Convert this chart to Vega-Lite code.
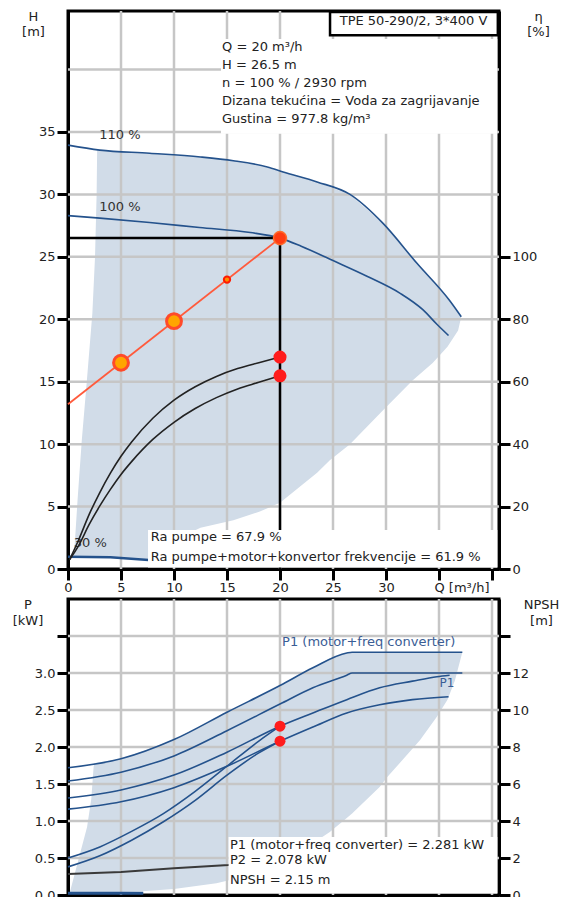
{
"$schema": "https://vega.github.io/schema/vega-lite/v6.json",
"autosize": {"type": "pad"},
"padding": {"left": 10, "top": 8, "right": 0, "bottom": 0},
"background": "white",
"spacing": 30,
"bounds": "flush",
"config": {
  "font": "DejaVu Sans",
  "view": {"stroke": "black", "strokeWidth": 3},
  "axis": {
    "grid": false,
    "domainColor": "black", "domainWidth": 3, "tickColor": "black", "tickWidth": 3, "tickSize": 11,
    "labelFont": "DejaVu Sans", "labelFontSize": 13, "labelColor": "#222", "labelPadding": 2,
    "titleFont": "DejaVu Sans", "titleFontSize": 13, "titleFontWeight": "normal", "titleColor": "#222",
    "labelOverlap": false, "labelFlush": false
  }
},
"datasets": {
  "gridTop": [
    {"g":"v5","Q":5,"H":0},{"g":"v5","Q":5,"H":44.69},
    {"g":"v10","Q":10,"H":0},{"g":"v10","Q":10,"H":44.69},
    {"g":"v15","Q":15,"H":0},{"g":"v15","Q":15,"H":44.69},
    {"g":"v20","Q":20,"H":0},{"g":"v20","Q":20,"H":44.69},
    {"g":"v25","Q":25,"H":0},{"g":"v25","Q":25,"H":44.69},
    {"g":"v30","Q":30,"H":0},{"g":"v30","Q":30,"H":44.69},
    {"g":"v35","Q":35,"H":0},{"g":"v35","Q":35,"H":44.69},
    {"g":"v40","Q":40,"H":0},{"g":"v40","Q":40,"H":44.69},
    {"g":"h5","Q":0,"H":5},{"g":"h5","Q":40.66,"H":5},
    {"g":"h10","Q":0,"H":10},{"g":"h10","Q":40.66,"H":10},
    {"g":"h15","Q":0,"H":15},{"g":"h15","Q":40.66,"H":15},
    {"g":"h20","Q":0,"H":20},{"g":"h20","Q":40.66,"H":20},
    {"g":"h25","Q":0,"H":25},{"g":"h25","Q":40.66,"H":25},
    {"g":"h30","Q":0,"H":30},{"g":"h30","Q":40.66,"H":30},
    {"g":"h35","Q":0,"H":35},{"g":"h35","Q":40.66,"H":35},
    {"g":"h40","Q":0,"H":40},{"g":"h40","Q":40.66,"H":40}
  ],
  "gridBot": [
    {"g":"v5","Q":5,"P":0},{"g":"v5","Q":5,"P":4},
    {"g":"v10","Q":10,"P":0},{"g":"v10","Q":10,"P":4},
    {"g":"v15","Q":15,"P":0},{"g":"v15","Q":15,"P":4},
    {"g":"v20","Q":20,"P":0},{"g":"v20","Q":20,"P":4},
    {"g":"v25","Q":25,"P":0},{"g":"v25","Q":25,"P":4},
    {"g":"v30","Q":30,"P":0},{"g":"v30","Q":30,"P":4},
    {"g":"v35","Q":35,"P":0},{"g":"v35","Q":35,"P":4},
    {"g":"v40","Q":40,"P":0},{"g":"v40","Q":40,"P":4},
    {"g":"h05","Q":0,"P":0.5},{"g":"h05","Q":40.66,"P":0.5},
    {"g":"h10","Q":0,"P":1},{"g":"h10","Q":40.66,"P":1},
    {"g":"h15","Q":0,"P":1.5},{"g":"h15","Q":40.66,"P":1.5},
    {"g":"h20","Q":0,"P":2},{"g":"h20","Q":40.66,"P":2},
    {"g":"h25","Q":0,"P":2.5},{"g":"h25","Q":40.66,"P":2.5},
    {"g":"h30","Q":0,"P":3},{"g":"h30","Q":40.66,"P":3},
    {"g":"h35","Q":0,"P":3.5},{"g":"h35","Q":40.66,"P":3.5}
  ],
  "areaTop": [
    {"Q":0.55,"H":1.0,"H2":0.96},{"Q":0.66,"H":2.3,"H2":0.96},{"Q":0.9,"H":5.5,"H2":0.96},{"Q":1.3,"H":10.3,"H2":0.96},
    {"Q":1.8,"H":15.3,"H2":0.96},{"Q":2.3,"H":20.5,"H2":0.96},{"Q":2.55,"H":25.0,"H2":0.96},{"Q":2.7,"H":30.0,"H2":0.96},
    {"Q":2.75,"H":33.6,"H2":0.96},{"Q":3.0,"H":33.55,"H2":0.96},{"Q":7.5,"H":33.3,"H2":0.75},{"Q":10,"H":33.15,"H2":2.3},
    {"Q":12.5,"H":33.0,"H2":3.3},{"Q":15.6,"H":32.7,"H2":3.9},{"Q":18.1,"H":32.3,"H2":4.6},{"Q":20.0,"H":31.85,"H2":5.3},
    {"Q":23.5,"H":31.0,"H2":7.7},{"Q":24.7,"H":30.6,"H2":8.7},{"Q":26.6,"H":30.0,"H2":10.0},{"Q":29.7,"H":27.7,"H2":12.7},
    {"Q":32.5,"H":24.9,"H2":15.1},{"Q":34.4,"H":23.05,"H2":16.5},{"Q":35.8,"H":21.7,"H2":17.8},{"Q":36.8,"H":20.55,"H2":19.1},
    {"Q":37.1,"H":20.2,"H2":20.2}
  ],
  "h110": [
    {"Q":0,"H":33.95},{"Q":3,"H":33.55},{"Q":7.7,"H":33.3},{"Q":12.5,"H":33.0},{"Q":15.6,"H":32.7},{"Q":18.8,"H":32.2},
    {"Q":20.3,"H":31.8},{"Q":23.5,"H":31.0},{"Q":26.6,"H":30.0},{"Q":29.7,"H":27.7},{"Q":32.9,"H":24.5},{"Q":36.0,"H":21.5},
    {"Q":37.1,"H":20.2}
  ],
  "h100": [
    {"Q":0,"H":28.3},{"Q":3,"H":28.1},{"Q":7.7,"H":27.75},{"Q":12.4,"H":27.35},{"Q":17.2,"H":26.95},{"Q":20,"H":26.5},
    {"Q":22,"H":25.85},{"Q":25,"H":24.7},{"Q":28.2,"H":23.45},{"Q":31.3,"H":22.1},{"Q":33.5,"H":20.75},{"Q":34.8,"H":19.6},
    {"Q":35.9,"H":18.7}
  ],
  "low30": [{"Q":0,"H":0.98},{"Q":4,"H":0.95},{"Q":7.6,"H":0.72}],
  "sysLine": [{"Q":0,"H":13.2},{"Q":20,"H":26.5}],
  "sysBig": [{"Q":5,"H":16.52},{"Q":10,"H":19.85}],
  "sysSmall": [{"Q":15,"H":23.18}],
  "opPt": [{"Q":20,"H":26.5}],
  "opH": [{"Q":0,"H":26.5},{"Q":20,"H":26.5}],
  "opV": [{"Q":20,"H":26.5},{"Q":20,"H":0}],
  "topBoxes": [{"Q":14.43,"Q2":40.5,"H":34.85,"H2":42.45},{"Q":7.55,"Q2":40.5,"H":0.12,"H2":3.12}],
  "titleBox": [{"Q":24.72,"Q2":40.55,"H":42.75,"H2":44.6}],
  "titleText": [{"Q":32.6,"H":43.85,"t":"TPE 50-290/2, 3*400 V"}],
  "topText": [
    {"Q":14.53,"H":41.81,"t":"Q = 20 m³/h"},
    {"Q":14.53,"H":40.37,"t":"H = 26.5 m"},
    {"Q":14.53,"H":38.92,"t":"n = 100 % / 2930 rpm"},
    {"Q":14.53,"H":37.48,"t":"Dizana tekućina = Voda za zagrijavanje"},
    {"Q":14.53,"H":36.04,"t":"Gustina = 977.8 kg/m³"}
  ],
  "etaText": [
    {"Q":7.8,"H":2.56,"t":"Ra pumpe = 67.9 %"},
    {"Q":7.8,"H":1.0,"t":"Ra pumpe+motor+konvertor frekvencije = 61.9 %"}
  ],
  "speedLabels": [
    {"Q":4.9,"H":34.76,"t":"110 %"},
    {"Q":4.9,"H":28.99,"t":"100 %"},
    {"Q":2.1,"H":2.12,"t":"30 %"}
  ],
  "effPump": [
    {"Q":0.15,"eta":3},{"Q":1,"eta":9.3},{"Q":2,"eta":17.5},{"Q":3,"eta":24.5},{"Q":4,"eta":30.7},{"Q":5,"eta":36.1},
    {"Q":6,"eta":40.7},{"Q":8,"eta":48.3},{"Q":10,"eta":54.1},{"Q":12,"eta":58.4},{"Q":14,"eta":61.7},{"Q":16,"eta":64.2},
    {"Q":18,"eta":66.1},{"Q":20,"eta":67.9}
  ],
  "effTotal": [
    {"Q":0.15,"eta":3},{"Q":1,"eta":7.5},{"Q":2,"eta":14.3},{"Q":3,"eta":20.2},{"Q":4,"eta":25.5},{"Q":5,"eta":30.3},
    {"Q":6,"eta":34.4},{"Q":8,"eta":41.5},{"Q":10,"eta":47.0},{"Q":12,"eta":51.4},{"Q":14,"eta":54.9},{"Q":16,"eta":57.7},
    {"Q":18,"eta":59.8},{"Q":20,"eta":61.9}
  ],
  "effPts": [{"Q":20,"eta":67.9},{"Q":20,"eta":61.9}],
  "areaBot": [
    {"Q":0.2,"P":0.05,"P2":0.03},{"Q":0.66,"P":0.3,"P2":0.03},{"Q":1.1,"P":0.54,"P2":0.03},{"Q":1.8,"P":0.92,"P2":0.03},
    {"Q":2.2,"P":1.3,"P2":0.03},{"Q":2.4,"P":1.7,"P2":0.03},{"Q":2.45,"P":1.78,"P2":0.03},{"Q":5,"P":1.84,"P2":0.04},
    {"Q":7,"P":1.94,"P2":0.05},{"Q":10,"P":2.1,"P2":0.08},{"Q":14,"P":2.39,"P2":0.16},{"Q":15.2,"P":2.49,"P2":0.2},
    {"Q":20,"P":2.83,"P2":0.5},{"Q":23.1,"P":3.07,"P2":0.7},{"Q":24.7,"P":3.2,"P2":0.85},{"Q":26.3,"P":3.27,"P2":1.04},
    {"Q":26.8,"P":3.28,"P2":1.1},{"Q":29.4,"P":3.28,"P2":1.46},{"Q":30.1,"P":3.28,"P2":1.59},{"Q":33.2,"P":3.28,"P2":2.09},
    {"Q":34.8,"P":3.28,"P2":2.41},{"Q":35.8,"P":3.28,"P2":2.64},{"Q":36.5,"P":3.28,"P2":2.9},{"Q":37.2,"P":3.28,"P2":3.28}
  ],
  "p1_110": [{"Q":0,"P":1.72},{"Q":5,"P":1.84},{"Q":10,"P":2.1},{"Q":15,"P":2.47},{"Q":20,"P":2.83},{"Q":23.1,"P":3.07},{"Q":26.3,"P":3.27},{"Q":26.8,"P":3.28},{"Q":37.2,"P":3.28}],
  "p2_110": [{"Q":0,"P":1.54},{"Q":5,"P":1.66},{"Q":10,"P":1.88},{"Q":15,"P":2.22},{"Q":20,"P":2.58},{"Q":23.1,"P":2.8},{"Q":26.3,"P":2.97},{"Q":26.8,"P":3.0},{"Q":37.2,"P":3.0}],
  "p1_100": [{"Q":0,"P":1.31},{"Q":5,"P":1.42},{"Q":10,"P":1.62},{"Q":15,"P":1.93},{"Q":20,"P":2.281},{"Q":23.1,"P":2.46},{"Q":26.3,"P":2.64},{"Q":29.4,"P":2.8},{"Q":32.5,"P":2.89},{"Q":34.8,"P":2.95},{"Q":36,"P":2.97}],
  "p2_100": [{"Q":0,"P":1.16},{"Q":5,"P":1.26},{"Q":10,"P":1.45},{"Q":15,"P":1.74},{"Q":20,"P":2.078},{"Q":23.1,"P":2.27},{"Q":26.3,"P":2.46},{"Q":29.4,"P":2.57},{"Q":32.5,"P":2.64},{"Q":35.9,"P":2.68}],
  "p1c": [{"Q":0,"P":0.5},{"Q":3,"P":0.65},{"Q":6,"P":0.86},{"Q":9,"P":1.1},{"Q":12,"P":1.4},{"Q":15,"P":1.74},{"Q":18,"P":2.08},{"Q":20,"P":2.281}],
  "p2c": [{"Q":0,"P":0.38},{"Q":3,"P":0.53},{"Q":6,"P":0.74},{"Q":9,"P":0.99},{"Q":12,"P":1.28},{"Q":15,"P":1.62},{"Q":18,"P":1.92},{"Q":20,"P":2.078}],
  "low30b": [{"Q":0,"P":0.025},{"Q":7.1,"P":0.025}],
  "botPts": [{"Q":20,"P":2.281},{"Q":20,"P":2.078}],
  "p1Label": [{"Q":20.2,"P":3.42,"t":"P1 (motor+freq converter)"}],
  "p1Small": [{"Q":35.75,"P":2.86,"t":"P1"}],
  "npsh": [{"Q":0,"NPSH":1.14},{"Q":5,"NPSH":1.24},{"Q":10,"NPSH":1.44},{"Q":15.15,"NPSH":1.62},{"Q":20,"NPSH":2.15}],
  "botBox": [{"Q":15.15,"Q2":40.5,"NPSH":0.08,"NPSH2":3.14}],
  "botText": [
    {"Q":15.28,"NPSH":2.7,"t":"P1 (motor+freq converter) = 2.281 kW"},
    {"Q":15.28,"NPSH":1.89,"t":"P2 = 2.078 kW"},
    {"Q":15.28,"NPSH":0.81,"t":"NPSH = 2.15 m"}
  ]
},
"vconcat": [
  {
    "width": 431, "height": 558,
    "resolve": {"scale": {"y": "independent"}},
    "layer": [
      {"layer": [
        {"data": {"name": "areaTop"}, "mark": {"type": "area", "color": "#d1dce8", "opacity": 1},
         "encoding": {
           "x": {"field": "Q", "type": "quantitative", "scale": {"domain": [0, 40.66], "nice": false, "zero": false},
                 "axis": {"values": [0,5,10,15,20,25,30,35,40], "title": null, "labelPadding": 1,
                          "labelExpr": "datum.value == 35 ? 'Q [m³/h]' : (datum.value == 40 ? '' : datum.label)",
                          "labelAlign": {"condition": {"test": "datum.value == 35", "value": "left"}, "value": "center"},
                          "labelOffset": {"condition": {"test": "datum.value == 35", "value": -5}, "value": 0}}},
           "y": {"field": "H", "type": "quantitative", "scale": {"domain": [0, 44.69], "nice": false, "zero": false},
                 "axis": {"values": [0,5,10,15,20,25,30,35],
                          "title": ["H", "[m]"], "titleAngle": 0, "titleAlign": "center", "titleBaseline": "top",
                          "titleX": -35, "titleY": -1, "titleLineHeight": 15}},
           "y2": {"field": "H2"}
         }},
        {"data": {"name": "gridTop"}, "mark": {"type": "line", "stroke": "#c6c6c6", "strokeWidth": 2.5, "strokeJoin": "round", "opacity": 1},
         "encoding": {"x": {"field": "Q", "type": "quantitative", "scale": {"domain": [0, 40.66], "nice": false, "zero": false}},
                      "y": {"field": "H", "type": "quantitative", "scale": {"domain": [0, 44.69], "nice": false, "zero": false}},
                      "detail": {"field": "g", "type": "nominal"}}},
        {"data": {"name": "h110"}, "mark": {"type": "line", "color": "#24528c", "strokeWidth": 1.6, "interpolate": "monotone"},
         "encoding": {"x": {"field": "Q", "type": "quantitative", "scale": {"domain": [0, 40.66], "nice": false, "zero": false}},
                      "y": {"field": "H", "type": "quantitative", "scale": {"domain": [0, 44.69], "nice": false, "zero": false}}}},
        {"data": {"name": "h100"}, "mark": {"type": "line", "color": "#24528c", "strokeWidth": 1.6, "interpolate": "monotone"},
         "encoding": {"x": {"field": "Q", "type": "quantitative", "scale": {"domain": [0, 40.66], "nice": false, "zero": false}},
                      "y": {"field": "H", "type": "quantitative", "scale": {"domain": [0, 44.69], "nice": false, "zero": false}}}},
        {"data": {"name": "low30"}, "mark": {"type": "line", "color": "#24528c", "strokeWidth": 2.5},
         "encoding": {"x": {"field": "Q", "type": "quantitative", "scale": {"domain": [0, 40.66], "nice": false, "zero": false}},
                      "y": {"field": "H", "type": "quantitative", "scale": {"domain": [0, 44.69], "nice": false, "zero": false}}}},
        {"data": {"name": "sysLine"}, "mark": {"type": "line", "color": "#ff5a3c", "strokeWidth": 1.8},
         "encoding": {"x": {"field": "Q", "type": "quantitative", "scale": {"domain": [0, 40.66], "nice": false, "zero": false}},
                      "y": {"field": "H", "type": "quantitative", "scale": {"domain": [0, 44.69], "nice": false, "zero": false}}}},
        {"data": {"name": "opH"}, "mark": {"type": "line", "color": "black", "strokeWidth": 2.5},
         "encoding": {"x": {"field": "Q", "type": "quantitative", "scale": {"domain": [0, 40.66], "nice": false, "zero": false}},
                      "y": {"field": "H", "type": "quantitative", "scale": {"domain": [0, 44.69], "nice": false, "zero": false}}}},
        {"data": {"name": "opV"}, "mark": {"type": "line", "color": "black", "strokeWidth": 2.5},
         "encoding": {"x": {"field": "Q", "type": "quantitative", "scale": {"domain": [0, 40.66], "nice": false, "zero": false}},
                      "y": {"field": "H", "type": "quantitative", "scale": {"domain": [0, 44.69], "nice": false, "zero": false}}}},
        {"data": {"name": "topBoxes"}, "mark": {"type": "rect", "fill": "white", "stroke": null},
         "encoding": {"x": {"field": "Q", "type": "quantitative", "scale": {"domain": [0, 40.66], "nice": false, "zero": false}},
                      "x2": {"field": "Q2"},
                      "y": {"field": "H", "type": "quantitative", "scale": {"domain": [0, 44.69], "nice": false, "zero": false}},
                      "y2": {"field": "H2"}}},
        {"data": {"name": "titleBox"}, "mark": {"type": "rect", "fill": "white", "stroke": "black", "strokeWidth": 2.5},
         "encoding": {"x": {"field": "Q", "type": "quantitative", "scale": {"domain": [0, 40.66], "nice": false, "zero": false}},
                      "x2": {"field": "Q2"},
                      "y": {"field": "H", "type": "quantitative", "scale": {"domain": [0, 44.69], "nice": false, "zero": false}},
                      "y2": {"field": "H2"}}},
        {"data": {"name": "titleText"}, "mark": {"type": "text", "align": "center", "baseline": "middle", "fontSize": 13, "color": "#222"},
         "encoding": {"x": {"field": "Q", "type": "quantitative", "scale": {"domain": [0, 40.66], "nice": false, "zero": false}},
                      "y": {"field": "H", "type": "quantitative", "scale": {"domain": [0, 44.69], "nice": false, "zero": false}},
                      "text": {"field": "t"}}},
        {"data": {"name": "topText"}, "mark": {"type": "text", "align": "left", "baseline": "middle", "fontSize": 13, "color": "#222"},
         "encoding": {"x": {"field": "Q", "type": "quantitative", "scale": {"domain": [0, 40.66], "nice": false, "zero": false}},
                      "y": {"field": "H", "type": "quantitative", "scale": {"domain": [0, 44.69], "nice": false, "zero": false}},
                      "text": {"field": "t"}}},
        {"data": {"name": "etaText"}, "mark": {"type": "text", "align": "left", "baseline": "middle", "fontSize": 13, "color": "#222"},
         "encoding": {"x": {"field": "Q", "type": "quantitative", "scale": {"domain": [0, 40.66], "nice": false, "zero": false}},
                      "y": {"field": "H", "type": "quantitative", "scale": {"domain": [0, 44.69], "nice": false, "zero": false}},
                      "text": {"field": "t"}}},
        {"data": {"name": "speedLabels"}, "mark": {"type": "text", "align": "center", "baseline": "middle", "fontSize": 13, "color": "#333"},
         "encoding": {"x": {"field": "Q", "type": "quantitative", "scale": {"domain": [0, 40.66], "nice": false, "zero": false}},
                      "y": {"field": "H", "type": "quantitative", "scale": {"domain": [0, 44.69], "nice": false, "zero": false}},
                      "text": {"field": "t"}}},
        {"data": {"name": "sysBig"}, "mark": {"type": "point", "shape": "circle", "filled": true, "fill": "#ffa500", "stroke": "#ff4a2a", "strokeWidth": 3, "size": 220, "opacity": 1},
         "encoding": {"x": {"field": "Q", "type": "quantitative", "scale": {"domain": [0, 40.66], "nice": false, "zero": false}},
                      "y": {"field": "H", "type": "quantitative", "scale": {"domain": [0, 44.69], "nice": false, "zero": false}}}},
        {"data": {"name": "sysSmall"}, "mark": {"type": "point", "shape": "circle", "filled": true, "fill": "#ff8c00", "stroke": "#ff1a00", "strokeWidth": 2, "size": 40, "opacity": 1},
         "encoding": {"x": {"field": "Q", "type": "quantitative", "scale": {"domain": [0, 40.66], "nice": false, "zero": false}},
                      "y": {"field": "H", "type": "quantitative", "scale": {"domain": [0, 44.69], "nice": false, "zero": false}}}},
        {"data": {"name": "opPt"}, "mark": {"type": "point", "shape": "circle", "filled": true, "fill": "#ff3b12", "stroke": "#ff6a2a", "strokeWidth": 1.5, "size": 170, "opacity": 1},
         "encoding": {"x": {"field": "Q", "type": "quantitative", "scale": {"domain": [0, 40.66], "nice": false, "zero": false}},
                      "y": {"field": "H", "type": "quantitative", "scale": {"domain": [0, 44.69], "nice": false, "zero": false}}}}
      ]},
      {"layer": [
        {"data": {"name": "effPump"}, "mark": {"type": "line", "color": "#222", "strokeWidth": 1.6, "interpolate": "monotone"},
         "encoding": {"x": {"field": "Q", "type": "quantitative", "scale": {"domain": [0, 40.66], "nice": false, "zero": false}},
                      "y": {"field": "eta", "type": "quantitative", "scale": {"domain": [0, 178.76], "nice": false, "zero": false},
                            "axis": {"orient": "right", "values": [0,20,40,60,80,100],
                                     "title": ["η", "[%]"], "titleAngle": 0, "titleAlign": "center", "titleBaseline": "top",
                                     "titleX": 39, "titleY": -1, "titleLineHeight": 15}}}},
        {"data": {"name": "effTotal"}, "mark": {"type": "line", "color": "#222", "strokeWidth": 1.6, "interpolate": "monotone"},
         "encoding": {"x": {"field": "Q", "type": "quantitative", "scale": {"domain": [0, 40.66], "nice": false, "zero": false}},
                      "y": {"field": "eta", "type": "quantitative", "scale": {"domain": [0, 178.76], "nice": false, "zero": false}}}},
        {"data": {"name": "effPts"}, "mark": {"type": "point", "shape": "circle", "filled": true, "color": "#ff1c1c", "size": 170, "opacity": 1},
         "encoding": {"x": {"field": "Q", "type": "quantitative", "scale": {"domain": [0, 40.66], "nice": false, "zero": false}},
                      "y": {"field": "eta", "type": "quantitative", "scale": {"domain": [0, 178.76], "nice": false, "zero": false}}}}
      ]}
    ]
  },
  {
    "width": 431, "height": 296,
    "resolve": {"scale": {"y": "independent"}},
    "layer": [
      {"layer": [
        {"data": {"name": "areaBot"}, "mark": {"type": "area", "color": "#d1dce8", "opacity": 1},
         "encoding": {
           "x": {"field": "Q", "type": "quantitative", "scale": {"domain": [0, 40.66], "nice": false, "zero": false},
                 "axis": {"values": [0,5,10,15,20,25,30,35,40], "title": null, "labels": false}},
           "y": {"field": "P", "type": "quantitative", "scale": {"domain": [0, 4], "nice": false, "zero": false},
                 "axis": {"values": [0,0.5,1,1.5,2,2.5,3,3.5], "format": ".1f",
                          "labelExpr": "datum.value == 3.5 ? '' : datum.label",
                          "title": ["P", "[kW]"], "titleAngle": 0, "titleAlign": "center", "titleBaseline": "top",
                          "titleX": -40.5, "titleY": -1, "titleLineHeight": 16}},
           "y2": {"field": "P2"}
         }},
        {"data": {"name": "gridBot"}, "mark": {"type": "line", "stroke": "#c6c6c6", "strokeWidth": 2.5, "strokeJoin": "round", "opacity": 1},
         "encoding": {"x": {"field": "Q", "type": "quantitative", "scale": {"domain": [0, 40.66], "nice": false, "zero": false}},
                      "y": {"field": "P", "type": "quantitative", "scale": {"domain": [0, 4], "nice": false, "zero": false}},
                      "detail": {"field": "g", "type": "nominal"}}},
        {"data": {"name": "p1_110"}, "mark": {"type": "line", "color": "#24528c", "strokeWidth": 1.6, "interpolate": "monotone"},
         "encoding": {"x": {"field": "Q", "type": "quantitative", "scale": {"domain": [0, 40.66], "nice": false, "zero": false}},
                      "y": {"field": "P", "type": "quantitative", "scale": {"domain": [0, 4], "nice": false, "zero": false}}}},
        {"data": {"name": "p2_110"}, "mark": {"type": "line", "color": "#24528c", "strokeWidth": 1.6, "interpolate": "monotone"},
         "encoding": {"x": {"field": "Q", "type": "quantitative", "scale": {"domain": [0, 40.66], "nice": false, "zero": false}},
                      "y": {"field": "P", "type": "quantitative", "scale": {"domain": [0, 4], "nice": false, "zero": false}}}},
        {"data": {"name": "p1_100"}, "mark": {"type": "line", "color": "#24528c", "strokeWidth": 1.6, "interpolate": "monotone"},
         "encoding": {"x": {"field": "Q", "type": "quantitative", "scale": {"domain": [0, 40.66], "nice": false, "zero": false}},
                      "y": {"field": "P", "type": "quantitative", "scale": {"domain": [0, 4], "nice": false, "zero": false}}}},
        {"data": {"name": "p2_100"}, "mark": {"type": "line", "color": "#24528c", "strokeWidth": 1.6, "interpolate": "monotone"},
         "encoding": {"x": {"field": "Q", "type": "quantitative", "scale": {"domain": [0, 40.66], "nice": false, "zero": false}},
                      "y": {"field": "P", "type": "quantitative", "scale": {"domain": [0, 4], "nice": false, "zero": false}}}},
        {"data": {"name": "p1c"}, "mark": {"type": "line", "color": "#24528c", "strokeWidth": 1.6, "interpolate": "monotone"},
         "encoding": {"x": {"field": "Q", "type": "quantitative", "scale": {"domain": [0, 40.66], "nice": false, "zero": false}},
                      "y": {"field": "P", "type": "quantitative", "scale": {"domain": [0, 4], "nice": false, "zero": false}}}},
        {"data": {"name": "p2c"}, "mark": {"type": "line", "color": "#24528c", "strokeWidth": 1.6, "interpolate": "monotone"},
         "encoding": {"x": {"field": "Q", "type": "quantitative", "scale": {"domain": [0, 40.66], "nice": false, "zero": false}},
                      "y": {"field": "P", "type": "quantitative", "scale": {"domain": [0, 4], "nice": false, "zero": false}}}},
        {"data": {"name": "low30b"}, "mark": {"type": "line", "color": "#24528c", "strokeWidth": 3},
         "encoding": {"x": {"field": "Q", "type": "quantitative", "scale": {"domain": [0, 40.66], "nice": false, "zero": false}},
                      "y": {"field": "P", "type": "quantitative", "scale": {"domain": [0, 4], "nice": false, "zero": false}}}},
        {"data": {"name": "p1Label"}, "mark": {"type": "text", "align": "left", "baseline": "middle", "fontSize": 13, "color": "#3a5d95"},
         "encoding": {"x": {"field": "Q", "type": "quantitative", "scale": {"domain": [0, 40.66], "nice": false, "zero": false}},
                      "y": {"field": "P", "type": "quantitative", "scale": {"domain": [0, 4], "nice": false, "zero": false}},
                      "text": {"field": "t"}}},
        {"data": {"name": "p1Small"}, "mark": {"type": "text", "align": "center", "baseline": "middle", "fontSize": 12, "color": "#3a5d95"},
         "encoding": {"x": {"field": "Q", "type": "quantitative", "scale": {"domain": [0, 40.66], "nice": false, "zero": false}},
                      "y": {"field": "P", "type": "quantitative", "scale": {"domain": [0, 4], "nice": false, "zero": false}},
                      "text": {"field": "t"}}},
        {"data": {"name": "botPts"}, "mark": {"type": "point", "shape": "circle", "filled": true, "color": "#ff1c1c", "size": 120, "opacity": 1},
         "encoding": {"x": {"field": "Q", "type": "quantitative", "scale": {"domain": [0, 40.66], "nice": false, "zero": false}},
                      "y": {"field": "P", "type": "quantitative", "scale": {"domain": [0, 4], "nice": false, "zero": false}}}}
      ]},
      {"layer": [
        {"data": {"name": "npsh"}, "mark": {"type": "line", "color": "#3a3a3a", "strokeWidth": 2},
         "encoding": {"x": {"field": "Q", "type": "quantitative", "scale": {"domain": [0, 40.66], "nice": false, "zero": false}},
                      "y": {"field": "NPSH", "type": "quantitative", "scale": {"domain": [0, 16], "nice": false, "zero": false},
                            "axis": {"orient": "right", "values": [0,2,4,6,8,10,12,14],
                                     "labelExpr": "datum.value == 14 ? '' : datum.label",
                                     "title": ["NPSH", "[m]"], "titleAngle": 0, "titleAlign": "center", "titleBaseline": "top",
                                     "titleX": 42, "titleY": -1, "titleLineHeight": 16}}}},
        {"data": {"name": "botBox"}, "mark": {"type": "rect", "fill": "white", "stroke": null},
         "encoding": {"x": {"field": "Q", "type": "quantitative", "scale": {"domain": [0, 40.66], "nice": false, "zero": false}},
                      "x2": {"field": "Q2"},
                      "y": {"field": "NPSH", "type": "quantitative", "scale": {"domain": [0, 16], "nice": false, "zero": false}},
                      "y2": {"field": "NPSH2"}}},
        {"data": {"name": "botText"}, "mark": {"type": "text", "align": "left", "baseline": "middle", "fontSize": 13, "color": "#222"},
         "encoding": {"x": {"field": "Q", "type": "quantitative", "scale": {"domain": [0, 40.66], "nice": false, "zero": false}},
                      "y": {"field": "NPSH", "type": "quantitative", "scale": {"domain": [0, 16], "nice": false, "zero": false}},
                      "text": {"field": "t"}}}
      ]}
    ]
  }
]
}
